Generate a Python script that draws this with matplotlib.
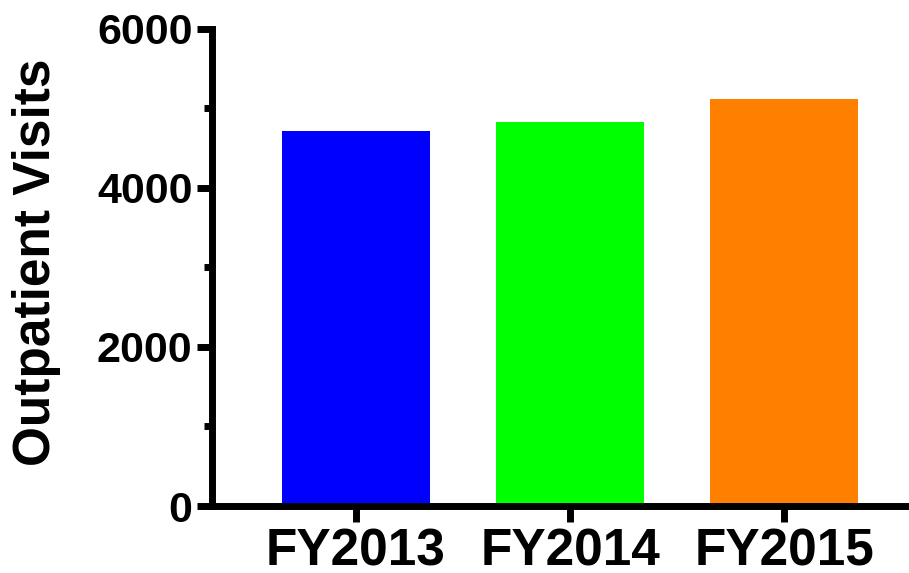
import matplotlib
matplotlib.use("Agg")
import matplotlib.pyplot as plt
from matplotlib.ticker import MultipleLocator

categories = ["FY2013", "FY2014", "FY2015"]
visits = [4710, 4820, 5120]
colors = ["#0000FF", "#00FF00", "#FF8000"]
y_ticks = [0, 2000, 4000, 6000]

plt.rcParams['font.family'] = ['Liberation Sans', 'DejaVu Sans']
plt.rcParams['font.weight'] = 'bold'

W, H = 909, 573
fig = plt.figure(figsize=(W / 100, H / 100), dpi=100)
left, right, bottom, top = 212, 909, 506, 28.5
ax = fig.add_axes([left / W, 1 - bottom / H, (right - left) / W, (bottom - top) / H])

x = list(range(len(categories)))
ax.bar(x, visits, width=0.69, color=colors, edgecolor='none')

ax.set_xlim(-0.673, 2.584)
ax.set_ylim(0, 6000)
ax.set_yticks(y_ticks)
ax.set_yticklabels([str(v) for v in y_ticks])
ax.yaxis.set_minor_locator(MultipleLocator(1000))
ax.set_xticks(x)
ax.set_xticklabels(categories)

for s in ['top', 'right']:
    ax.spines[s].set_visible(False)
for s in ['left', 'bottom']:
    ax.spines[s].set_linewidth(5)
    ax.spines[s].set_capstyle('projecting')

ax.tick_params(axis='y', which='major', length=11, width=5, labelsize=31, pad=3)
ax.tick_params(axis='y', which='minor', length=6, width=5)
ax.tick_params(axis='x', which='major', length=11.5, width=5, labelsize=37, pad=4)
for lbl in ax.get_xticklabels() + ax.get_yticklabels():
    lbl.set_fontweight('bold')

fig.text(37 / W, 1 - 262 / H, "Outpatient Visits", rotation=90, ha='center', va='center',
         fontsize=37, fontweight='bold')

fig.savefig("out.png", dpi=100)
